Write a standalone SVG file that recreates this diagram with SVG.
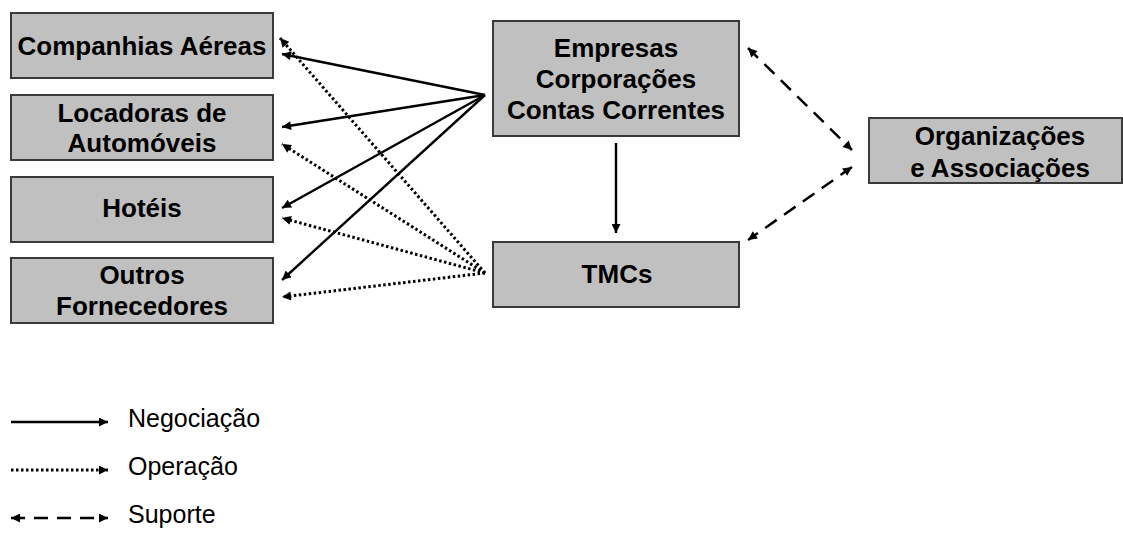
<svg xmlns="http://www.w3.org/2000/svg" width="1123" height="533" viewBox="0 0 1123 533">
<style>
.box{fill:#c0c0c0;stroke:#3a3a3a;stroke-width:2}
.t{font-family:"Liberation Sans",Arial,sans-serif;font-weight:bold;font-size:26px;fill:#000;text-anchor:middle}
.lg{font-family:"Liberation Sans",Arial,sans-serif;font-size:25px;fill:#000}
.neg{stroke:#000;stroke-width:2.4;fill:none}
.op{stroke:#000;stroke-width:3;stroke-dasharray:2.5 2.5;fill:none}
.sup{stroke:#000;stroke-width:2.5;stroke-dasharray:14 9;fill:none}
</style>
<defs>
<marker id="ah" viewBox="0 0 10 10" refX="10" refY="5" markerWidth="11" markerHeight="9" markerUnits="userSpaceOnUse" orient="auto-start-reverse"><path d="M0,0 L10,5 L0,10 z" fill="#000"/></marker>
</defs>
<rect width="1123" height="533" fill="#fff"/>
<g id="companhias"><rect class="box" x="11" y="13" width="262" height="65"/><text class="t" x="142" y="55">Companhias Aéreas</text></g>
<g id="locadoras"><rect class="box" x="11" y="95" width="262" height="65"/><text class="t" x="142" y="122">Locadoras de</text><text class="t" x="142" y="152">Automóveis</text></g>
<g id="hoteis"><rect class="box" x="11" y="177" width="262" height="65"/><text class="t" x="142" y="217">Hotéis</text></g>
<g id="outros"><rect class="box" x="11" y="258" width="262" height="65"/><text class="t" x="142" y="284">Outros</text><text class="t" x="142" y="315">Fornecedores</text></g>
<g id="empresas"><rect class="box" x="493" y="21" width="246" height="115"/><text class="t" x="616" y="57">Empresas</text><text class="t" x="616" y="88">Corporações</text><text class="t" x="616" y="119">Contas Correntes</text></g>
<g id="tmcs"><rect class="box" x="493" y="242" width="246" height="65"/><text class="t" x="617" y="283">TMCs</text></g>
<g id="organizacoes"><rect class="box" x="869" y="118" width="253" height="65"/><text class="t" x="1000" y="145">Organizações</text><text class="t" x="1000" y="177">e Associações</text></g>
<g id="connectors">
<line class="neg" x1="485" y1="95" x2="282" y2="54" marker-end="url(#ah)"/>
<line class="neg" x1="485" y1="95" x2="282" y2="127" marker-end="url(#ah)"/>
<line class="neg" x1="485" y1="95" x2="282" y2="208" marker-end="url(#ah)"/>
<line class="neg" x1="485" y1="95" x2="282" y2="280" marker-end="url(#ah)"/>
<line class="op" x1="485" y1="273" x2="280" y2="38" marker-end="url(#ah)"/>
<line class="op" x1="485" y1="273" x2="282" y2="144" marker-end="url(#ah)"/>
<line class="op" x1="485" y1="273" x2="282" y2="218" marker-end="url(#ah)"/>
<line class="op" x1="485" y1="273" x2="282" y2="297" marker-end="url(#ah)"/>
<line class="neg" stroke-width="1.8" x1="616" y1="143" x2="616" y2="233" marker-end="url(#ah)"/>
<line class="sup" x1="748" y1="48" x2="852" y2="150" marker-start="url(#ah)" marker-end="url(#ah)"/>
<line class="sup" x1="852" y1="167" x2="748" y2="240" marker-start="url(#ah)" marker-end="url(#ah)"/>
</g>
<g id="legend">
<line class="neg" stroke-width="2" x1="11" y1="422" x2="108" y2="422" marker-end="url(#ah)"/>
<text class="lg" x="128" y="427">Negociação</text>
<line class="op" stroke-width="2" stroke-dasharray="2 2" x1="11" y1="470" x2="108" y2="470" marker-end="url(#ah)"/>
<text class="lg" x="128" y="475">Operação</text>
<line class="sup" stroke-width="2" stroke-dasharray="16 9" x1="11" y1="518" x2="108" y2="518" marker-start="url(#ah)" marker-end="url(#ah)"/>
<text class="lg" x="128" y="523">Suporte</text>
</g>
</svg>
